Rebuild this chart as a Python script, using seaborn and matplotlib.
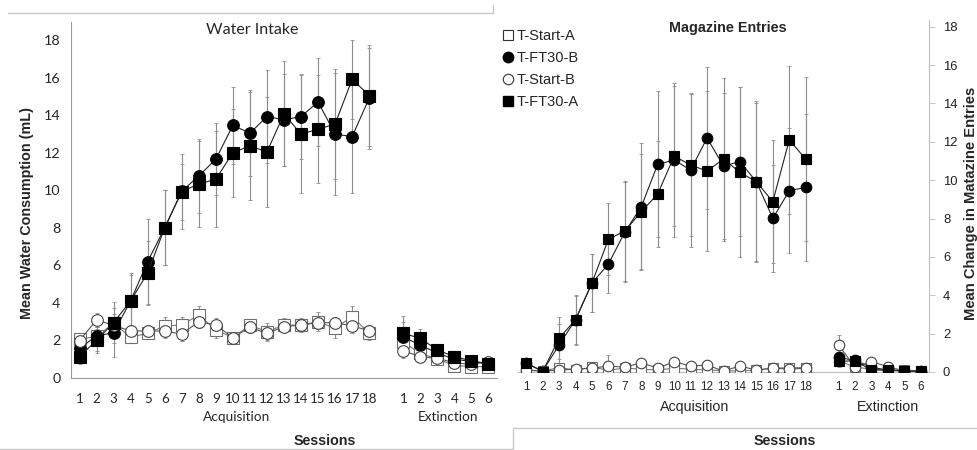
import numpy as np
import pandas as pd
import matplotlib
matplotlib.use("Agg")
import matplotlib.pyplot as plt
from matplotlib.lines import Line2D
import seaborn as sns

# ---------------- data ----------------
acq_sessions = list(range(1, 19))
ext_sessions = list(range(1, 7))
groups = ["T-Start-A", "T-FT30-B", "T-Start-B", "T-FT30-A"]

# Water intake (mL): acquisition means / SEM
water_start_a_acq = [2.05, 2.2, 2.9, 2.16, 2.37, 2.76, 2.81, 3.35, 2.55, 2.14, 2.8, 2.46, 2.81, 2.81, 2.99, 2.64, 3.26, 2.37]
water_ft30_b_acq = [1.57, 2.23, 2.4, 4.1, 6.2, 8.0, 9.95, 10.77, 11.66, 13.47, 13.05, 13.94, 13.76, 13.94, 14.72, 13.0, 12.87, 14.92]
water_start_b_acq = [1.98, 3.08, 2.8, 2.49, 2.5, 2.49, 2.33, 2.99, 2.81, 2.14, 2.69, 2.37, 2.72, 2.81, 2.94, 2.94, 2.76, 2.51]
water_ft30_a_acq = [1.12, 2.0, 2.94, 4.1, 5.6, 8.0, 9.93, 10.34, 10.59, 12.01, 12.37, 12.05, 14.08, 13.0, 13.26, 13.54, 15.93, 15.06]

water_start_a_acq_err = [0.3, 0.4, 0.5, 0.3, 0.3, 0.5, 0.45, 0.5, 0.45, 0.3, 0.35, 0.45, 0.35, 0.35, 0.5, 0.5, 0.55, 0.35]
water_ft30_b_acq_err = [0.5, 0.8, 1.3, 1.4, 2.27, 2.0, 2.0, 1.96, 1.92, 2.07, 2.3, 2.5, 2.46, 2.27, 2.33, 3.25, 3.0, 2.7]
water_start_b_acq_err = [0.3, 0.35, 0.4, 0.3, 0.3, 0.35, 0.35, 0.35, 0.35, 0.3, 0.3, 0.4, 0.3, 0.3, 0.35, 0.3, 0.4, 0.3]
water_ft30_a_acq_err = [0.4, 0.7, 1.1, 1.5, 1.7, 2.0, 1.5, 2.3, 2.56, 2.35, 2.9, 2.95, 2.8, 3.16, 2.88, 2.93, 2.1, 2.7]

# Water intake (mL): extinction means / SEM
water_start_a_ext = [1.9, 1.3, 1.0, 0.65, 0.59, 0.59]
water_ft30_b_ext = [2.16, 1.75, 1.3, 1.0, 0.85, 0.75]
water_start_b_ext = [1.44, 1.12, 1.03, 0.8, 0.71, 0.86]
water_ft30_a_ext = [2.37, 2.1, 1.48, 1.12, 0.9, 0.75]

water_start_a_ext_err = [0.4, 0.3, 0.2, 0.2, 0.2, 0.2]
water_ft30_b_ext_err = [0.8, 0.5, 0.3, 0.2, 0.2, 0.2]
water_start_b_ext_err = [0.4, 0.3, 0.2, 0.15, 0.15, 0.15]
water_ft30_a_ext_err = [0.9, 0.5, 0.25, 0.2, 0.15, 0.15]

# Magazine entries (change): acquisition means / SEM
mag_start_a_acq = [0.1, 0.05, 0.23, 0.1, 0.25, 0.1, 0.2, 0.15, 0.1, 0.2, 0.15, 0.1, 0.07, 0.05, 0.1, 0.2, 0.23, 0.23]
mag_ft30_b_acq = [0.45, 0.05, 1.41, 2.73, 4.64, 5.63, 7.3, 8.62, 10.83, 11.05, 10.53, 12.2, 10.74, 10.97, 9.92, 8.01, 9.45, 9.63]
mag_start_b_acq = [0.1, 0.05, 0.1, 0.15, 0.2, 0.31, 0.25, 0.48, 0.2, 0.54, 0.31, 0.36, 0.05, 0.31, 0.1, 0.2, 0.15, 0.2]
mag_ft30_a_acq = [0.48, 0.02, 1.76, 2.73, 4.64, 6.92, 7.35, 8.36, 9.28, 11.26, 10.79, 10.48, 11.1, 10.41, 9.92, 8.88, 12.1, 11.1]

mag_start_a_acq_err = [0.1, 0.05, 0.15, 0.1, 0.15, 0.15, 0.15, 0.15, 0.1, 0.15, 0.1, 0.1, 0.1, 0.05, 0.1, 0.1, 0.15, 0.15]
mag_ft30_b_acq_err = [0.3, 0.1, 1.1, 1.3, 1.5, 1.53, 2.6, 3.3, 3.8, 4.0, 4.0, 3.7, 3.8, 3.9, 4.2, 2.78, 3.26, 3.83]
mag_start_b_acq_err = [0.1, 0.05, 0.1, 0.1, 0.1, 0.6, 0.15, 0.2, 0.15, 0.2, 0.15, 0.15, 0.05, 0.15, 0.05, 0.1, 0.1, 0.1]
mag_ft30_a_acq_err = [0.25, 0.05, 1.1, 1.25, 1.5, 1.87, 2.6, 3.0, 2.78, 3.64, 3.7, 4.15, 4.25, 4.43, 4.12, 3.22, 3.85, 4.26]

# Magazine entries (change): extinction means / SEM
mag_start_a_ext = [0.6, 0.25, 0.15, 0.1, 0.1, 0.05]
mag_ft30_b_ext = [0.76, 0.6, 0.25, 0.1, 0.05, 0.02]
mag_start_b_ext = [1.41, 0.25, 0.54, 0.28, 0.05, 0.05]
mag_ft30_a_ext = [0.55, 0.59, 0.1, 0.1, 0.05, 0.05]

mag_start_a_ext_err = [0.2, 0.1, 0.1, 0.05, 0.05, 0.05]
mag_ft30_b_ext_err = [0.4, 0.3, 0.1, 0.05, 0.05, 0.02]
mag_start_b_ext_err = [0.5, 0.15, 0.2, 0.1, 0.05, 0.05]
mag_ft30_a_ext_err = [0.3, 0.3, 0.05, 0.05, 0.05, 0.05]

x_tick_labels = [str(s) for s in acq_sessions] + [str(s) for s in ext_sessions]

# ---------------- tidy table ----------------
EXT_OFFSET = 19  # one empty slot between the two phases


def rows(panel, group, acq, acq_err, ext, ext_err):
    out = []
    for s, m, e in zip(acq_sessions, acq, acq_err):
        out.append((panel, group, "Acquisition", s, s, m, e))
    for s, m, e in zip(ext_sessions, ext, ext_err):
        out.append((panel, group, "Extinction", s, s + EXT_OFFSET, m, e))
    return out


records = []
records += rows("water", "T-Start-A", water_start_a_acq, water_start_a_acq_err, water_start_a_ext, water_start_a_ext_err)
records += rows("water", "T-FT30-B", water_ft30_b_acq, water_ft30_b_acq_err, water_ft30_b_ext, water_ft30_b_ext_err)
records += rows("water", "T-Start-B", water_start_b_acq, water_start_b_acq_err, water_start_b_ext, water_start_b_ext_err)
records += rows("water", "T-FT30-A", water_ft30_a_acq, water_ft30_a_acq_err, water_ft30_a_ext, water_ft30_a_ext_err)
records += rows("mag", "T-Start-A", mag_start_a_acq, mag_start_a_acq_err, mag_start_a_ext, mag_start_a_ext_err)
records += rows("mag", "T-FT30-B", mag_ft30_b_acq, mag_ft30_b_acq_err, mag_ft30_b_ext, mag_ft30_b_ext_err)
records += rows("mag", "T-Start-B", mag_start_b_acq, mag_start_b_acq_err, mag_start_b_ext, mag_start_b_ext_err)
records += rows("mag", "T-FT30-A", mag_ft30_a_acq, mag_ft30_a_acq_err, mag_ft30_a_ext, mag_ft30_a_ext_err)
df = pd.DataFrame(records, columns=["panel", "group", "phase", "session", "pos", "mean", "sem"])

# ---------------- style ----------------
sns.set_theme(style="white")
plt.rcParams["font.family"] = ["Liberation Sans", "DejaVu Sans"]

group_style = {
    "T-Start-A": dict(marker="s", mfc="white", mec="#6e6e6e", line="#7a7a7a"),
    "T-FT30-B": dict(marker="o", mfc="black", mec="black", line="#222222"),
    "T-Start-B": dict(marker="o", mfc="white", mec="#444444", line="#555555"),
    "T-FT30-A": dict(marker="s", mfc="black", mec="black", line="#222222"),
}

W, H = 978, 450
fig = plt.figure(figsize=(W / 100, H / 100), dpi=100)


def fx(px):
    return px / W


def fy(py):
    return 1 - py / H


axis_grey = "#9a9a9a"


def draw_panel(ax, panel, msize, ecolor):
    sub = df[df["panel"] == panel]
    for z, g in enumerate(groups):
        st = group_style[g]
        d = sub[sub["group"] == g]
        ax.errorbar(d["pos"], d["mean"], yerr=d["sem"], fmt="none",
                    ecolor=ecolor, elinewidth=0.8, capsize=1.5, capthick=0.6,
                    zorder=2 + z * 0.01)
        sns.lineplot(data=d, x="pos", y="mean", units="phase", estimator=None,
                     ax=ax, color=st["line"], linewidth=0.8,
                     marker=st["marker"], markersize=msize,
                     markerfacecolor=st["mfc"], markeredgecolor=st["mec"],
                     markeredgewidth=0.8, zorder=3 + z, legend=False)
    ax.set_xlim(0.5, 25.5)
    ax.set_xticks(list(range(1, 19)) + list(range(20, 26)))
    ax.set_xticks(np.arange(0.5, 25.6, 1.0), minor=True)
    ax.set_xlabel("")
    ax.set_ylabel("")
    ax.set_yticks(range(0, 19, 2))
    for s in ax.spines.values():
        s.set_color(axis_grey)
        s.set_linewidth(0.8)
    ax.tick_params(axis="x", which="major", length=0, pad=4)
    ax.tick_params(axis="x", which="minor", length=4, width=0.7, color=axis_grey, direction="out")
    ax.tick_params(axis="y", which="major", length=4, width=0.7, color=axis_grey, direction="out")
    ax.set_facecolor("none")


# ---- left: water intake ----
axL = fig.add_axes([fx(71), fy(377.7), fx(497 - 71), (377.7 - 21.7) / H])
draw_panel(axL, "water", 8.4, "#8c8c8c")
axL.set_ylim(0, 19.0)
axL.spines["top"].set_visible(False)
axL.spines["right"].set_visible(False)
axL.tick_params(axis="x", which="major", pad=11)
axL.set_xticklabels(x_tick_labels, family=["Lato", "DejaVu Sans"], fontsize=9.6)
axL.set_yticklabels([str(v) for v in range(0, 19, 2)], family=["Lato", "DejaVu Sans"], fontsize=10.3)

# ---- right: magazine entries ----
axR = fig.add_axes([fx(518), fy(372), fx(929 - 518), (372 - 20) / H])
draw_panel(axR, "mag", 7.6, "#8c8c8c")
axR.set_ylim(0, (372 - 20) / 19.18)
axR.spines["top"].set_visible(False)
axR.spines["left"].set_visible(False)
axR.yaxis.tick_right()
axR.tick_params(axis="y", which="major", length=4, width=0.7, color="#c8c8c8", direction="out", pad=6)
axR.tick_params(axis="x", which="major", pad=6.5)
axR.tick_params(axis="x", which="minor", color="#c8c8c8")
axR.spines["right"].set_color("#c0c0c0")
axR.spines["bottom"].set_color("#c0c0c0")
axR.set_xticklabels(x_tick_labels, fontsize=8.4)
axR.set_yticklabels([str(v) for v in range(0, 19, 2)], fontsize=9.4, color="#222222")

# ---- text ----
calibri_like = ["Lato", "DejaVu Sans"]
fig.text(fx(252), fy(30), "Water Intake", ha="center", va="center", family=calibri_like, fontsize=11.5)
fig.text(fx(237), fy(417), "Acquisition", ha="center", va="center", family=calibri_like, fontsize=9.8)
fig.text(fx(448), fy(417), "Extinction", ha="center", va="center", family=calibri_like, fontsize=9.8)
fig.text(fx(325), fy(441), "Sessions", ha="center", va="center", fontsize=10.3, fontweight="bold")
fig.text(fx(27), fy(213), "Mean Water Consumption (mL)", rotation=90, ha="center", va="center",
         fontsize=10.4, fontweight="bold")

fig.text(fx(728), fy(28), "Magazine Entries", ha="center", va="center", fontsize=10.4, fontweight="bold")
fig.text(fx(695), fy(407), "Acquisition", ha="center", va="center", fontsize=10.3)
fig.text(fx(888), fy(407), "Extinction", ha="center", va="center", fontsize=10.3)
fig.text(fx(785), fy(441), "Sessions", ha="center", va="center", fontsize=10.3, fontweight="bold")
fig.text(fx(971), fy(203), "Mean Change in Matazine Entries", rotation=90, ha="center", va="center",
         fontsize=10.6, fontweight="bold")

# ---- legend ----
handles = [
    Line2D([], [], linestyle="none", marker="s", markersize=7, markerfacecolor="white",
           markeredgecolor="#333333", markeredgewidth=0.8),
    Line2D([], [], linestyle="none", marker="o", markersize=7.5, markerfacecolor="black",
           markeredgecolor="black"),
    Line2D([], [], linestyle="none", marker="o", markersize=7.5, markerfacecolor="white",
           markeredgecolor="#333333", markeredgewidth=0.8),
    Line2D([], [], linestyle="none", marker="s", markersize=7, markerfacecolor="black",
           markeredgecolor="black"),
]
fig.legend(handles, groups, loc="upper left", bbox_to_anchor=(fx(502), fy(29)),
           frameon=False, fontsize=10.5, handlelength=0.8, handletextpad=0.2,
           labelspacing=0.55, borderaxespad=0, borderpad=0)

# ---- panel frame lines ----
frame_grey = "#c8c8c8"
fig.add_artist(Line2D([fx(8), fx(493)], [fy(13), fy(13)], color=frame_grey, lw=1))
fig.add_artist(Line2D([fx(493), fx(493)], [fy(13), fy(5)], color=frame_grey, lw=1))
fig.add_artist(Line2D([fx(513), fx(978)], [fy(428), fy(428)], color=frame_grey, lw=1))
fig.add_artist(Line2D([fx(513), fx(513)], [fy(428), fy(450)], color=frame_grey, lw=1))
fig.add_artist(Line2D([fx(0), fx(513)], [fy(449), fy(449)], color=frame_grey, lw=1))

fig.savefig("out.png", dpi=100, facecolor="white")
